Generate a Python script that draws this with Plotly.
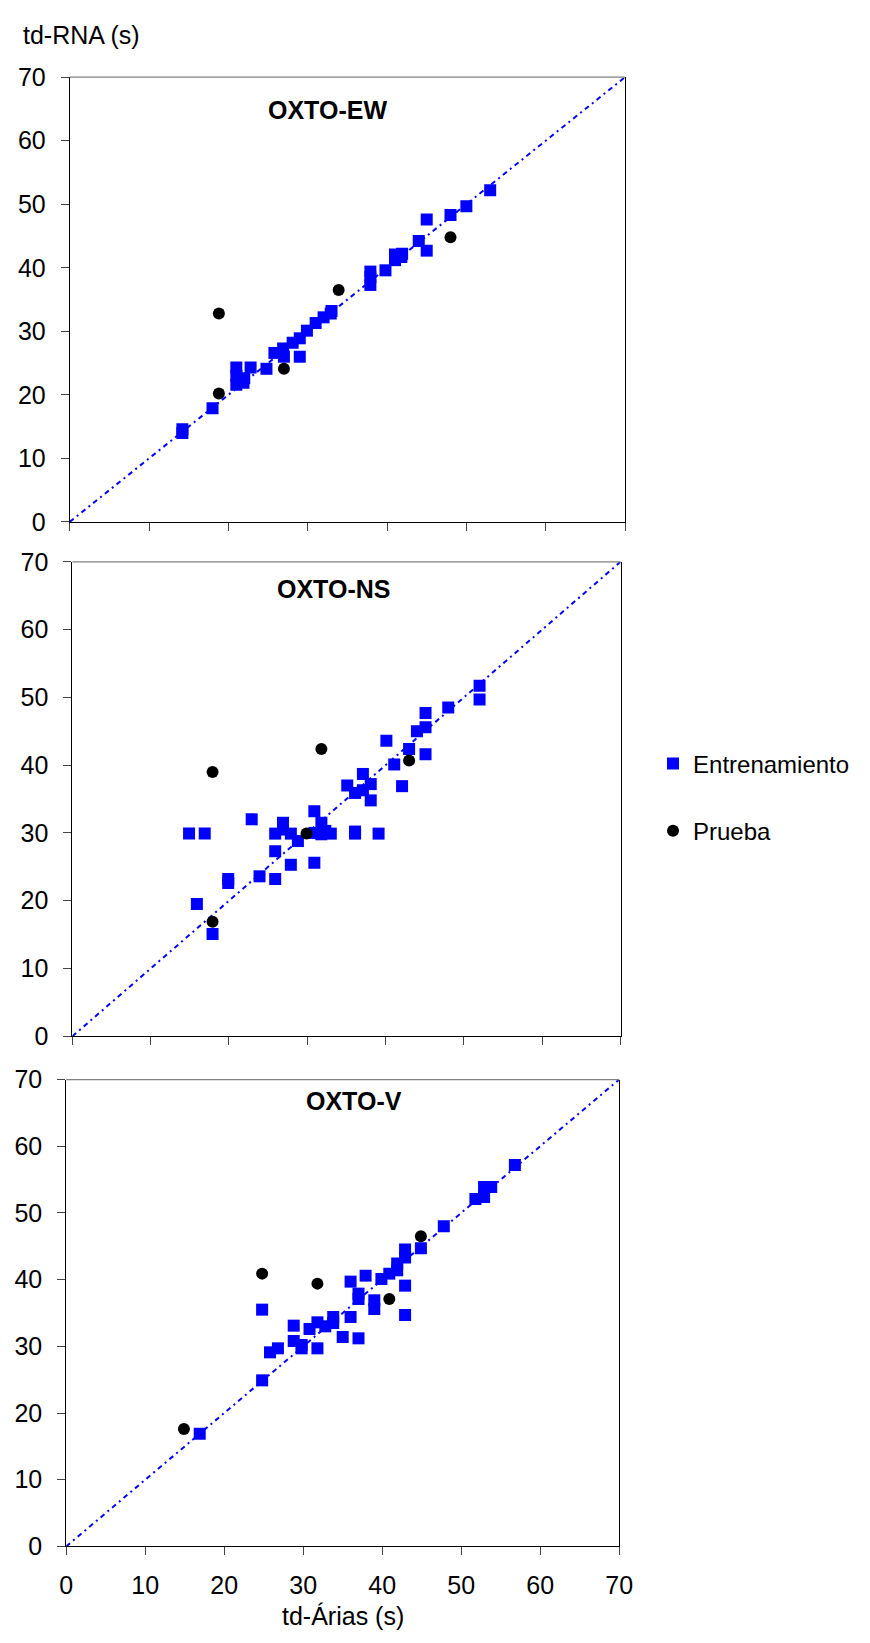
import plotly.graph_objects as go

# ---- data: td-Árias (x) vs td-RNA (y), seconds ----
ew_train_x = [14.2, 14.2, 18.0, 21.0, 21.0, 21.0, 21.9, 22.0, 22.8, 24.8, 25.8, 26.9, 27.0, 28.1,
              29.0, 29.0, 29.9, 31.0, 32.0, 32.9, 33.0, 37.9, 37.9, 37.9, 39.8, 41.0, 41.0, 41.8,
              41.9, 44.0, 45.0, 45.0, 48.0, 50.0, 53.0]
ew_train_y = [14.0, 14.6, 17.9, 24.3, 23.0, 21.6, 21.9, 22.6, 24.3, 24.1, 26.6, 27.3, 26.0, 28.2,
              28.9, 26.0, 30.1, 31.3, 32.2, 32.8, 33.2, 39.4, 38.5, 37.3, 39.6, 42.1, 41.2, 41.7,
              42.2, 44.2, 47.6, 42.7, 48.3, 49.7, 52.2]
ew_test_x = [18.8, 18.8, 27.0, 33.9, 48.0]
ew_test_y = [32.8, 20.2, 24.1, 36.5, 44.8]

ns_train_x = [14.9, 16.9, 15.9, 17.9, 19.9, 19.9, 22.9, 23.9, 25.9, 25.9, 25.9, 26.9, 26.9, 27.9,
              27.9, 28.8, 30.9, 30.9, 30.9, 31.8, 31.8, 32.3, 33.0, 35.1, 36.1, 36.1, 36.1, 37.1,
              37.1, 38.1, 38.1, 39.1, 40.1, 41.1, 42.1, 43.0, 44.0, 45.1, 45.1, 45.1, 48.0, 52.0,
              52.0]
ns_train_y = [29.9, 29.9, 19.5, 15.1, 23.2, 22.6, 32.0, 23.6, 29.9, 27.3, 23.2, 31.5, 30.5, 29.9,
              25.3, 28.8, 33.2, 25.6, 30.0, 31.5, 29.8, 30.3, 29.9, 37.0, 35.9, 30.2, 29.9, 38.7,
              36.3, 37.2, 34.8, 29.9, 43.6, 40.1, 36.9, 42.4, 45.0, 47.7, 45.6, 41.6, 48.5, 51.7,
              49.7]
ns_test_x = [17.9, 17.9, 29.9, 31.8, 43.0]
ns_test_y = [39.0, 16.9, 29.9, 42.4, 40.7]

v_train_x = [16.9, 24.8, 24.8, 25.8, 26.8, 28.8, 28.8, 29.8, 29.8, 30.8, 31.8, 31.8, 32.8, 33.8,
             33.8, 35.0, 36.0, 36.0, 37.0, 37.0, 37.0, 37.9, 39.0, 39.0, 39.9, 40.9, 41.9, 41.9,
             42.9, 42.9, 42.9, 42.9, 44.9, 47.8, 51.8, 52.9, 52.9, 53.8, 56.8]
v_train_y = [16.9, 24.9, 35.5, 29.1, 29.7, 33.1, 30.8, 30.2, 29.7, 32.6, 33.6, 29.7, 33.0, 34.4,
             33.5, 31.4, 39.7, 34.4, 37.9, 37.1, 31.2, 40.6, 36.9, 35.6, 40.1, 40.9, 41.4, 42.4,
             44.5, 43.3, 39.1, 34.7, 44.7, 48.0, 52.1, 52.4, 53.9, 53.9, 57.2]
v_test_x = [14.9, 24.8, 31.8, 40.9, 44.9]
v_test_y = [17.6, 40.9, 39.4, 37.1, 46.5]

panel_titles = ["OXTO-EW", "OXTO-NS", "OXTO-V"]
diag = [0, 70]
tick_vals = [0, 10, 20, 30, 40, 50, 60, 70]

FONT = "Liberation Sans, Arial, sans-serif"
W, H = 870, 1643
BLUE = "#0000FF"
FS = 25

# panel frames in pixels: (left, right, top, bottom)
frames = [(64.3, 633.3, 64.3, 516.7),
          (67.0, 628.7, 557.3, 1040.0),
          (60.7, 627.3, 1084.0, 1559.0)]
# title anchors in pixels (left edge, vertical centre)
title_pos = [(265.5, 98.0), (274.8, 585.0), (303.9, 1105.6)]

panels = [
    (ew_train_x, ew_train_y, ew_test_x, ew_test_y),
    (ns_train_x, ns_train_y, ns_test_x, ns_test_y),
    (v_train_x, v_train_y, v_test_x, v_test_y),
]

fig = go.Figure()
layout = dict(
    width=W, height=H,
    margin=dict(l=0, r=0, t=0, b=0),
    paper_bgcolor="white", plot_bgcolor="white",
    font=dict(family=FONT, size=FS, color="black"),
    showlegend=True,
    legend=dict(x=662 / W, xanchor="left", y=1 - 740 / H, yanchor="top",
                font=dict(family=FONT, size=24, color="black"),
                traceorder="grouped", tracegroupgap=33,
                bgcolor="rgba(0,0,0,0)", itemwidth=30),
)
annotations = []
shapes = []

for i, (tx, ty, px, py) in enumerate(panels):
    n = "" if i == 0 else str(i + 1)
    xa, ya = "x" + n, "y" + n
    l, r, t, b = frames[i]
    last = i == 2

    fig.add_trace(go.Scatter(x=diag, y=diag, mode="lines", xaxis=xa, yaxis=ya,
                             line=dict(color=BLUE, width=2, dash="5px,4px,2px,4px"),
                             showlegend=False, hoverinfo="skip"))
    fig.add_trace(go.Scatter(x=tx, y=ty, mode="markers", xaxis=xa, yaxis=ya,
                             name="Entrenamiento", legendgroup="train", showlegend=last,
                             marker=dict(symbol="square", size=12, color=BLUE,
                                         line=dict(width=0))))
    fig.add_trace(go.Scatter(x=px, y=py, mode="markers", xaxis=xa, yaxis=ya,
                             name="Prueba", legendgroup="test", showlegend=last,
                             marker=dict(symbol="circle", size=12, color="black",
                                         line=dict(width=0))))

    layout["xaxis" + n] = dict(
        domain=[l / W, r / W], anchor=ya, range=[0, 70], tickvals=tick_vals,
        showticklabels=last, ticks="outside", ticklen=8, tickcolor="#444", tickwidth=1,
        ticklabelstandoff=9, showline=True, linecolor="black", linewidth=1,
        showgrid=False, zeroline=False, fixedrange=True,
        tickfont=dict(family=FONT, size=FS, color="black"),
    )
    layout["yaxis" + n] = dict(
        domain=[1 - b / H, 1 - t / H], anchor=xa, range=[0, 70], tickvals=tick_vals,
        ticks="outside", ticklen=8, tickcolor="#444", tickwidth=1,
        ticklabelstandoff=10, showline=True, linecolor="black", linewidth=1,
        mirror=True, showgrid=False, zeroline=False, fixedrange=True,
        tickfont=dict(family=FONT, size=FS, color="black"),
    )
    # top edge of the plot area in grey
    shapes.append(dict(type="line", xref=xa + " domain", yref=ya + " domain",
                       x0=0, x1=1, y0=1, y1=1, line=dict(color="#808080", width=1.3)))

    tx0, ty0 = title_pos[i]
    annotations.append(dict(text="<b>" + panel_titles[i] + "</b>", xref="paper", yref="paper",
                            x=tx0 / W, y=1 - ty0 / H, xanchor="left", yanchor="middle",
                            showarrow=False, font=dict(family=FONT, size=FS, color="black")))

annotations.append(dict(text="td-RNA (s)", xref="paper", yref="paper",
                        x=14 / W, y=1 - 21 / H, xanchor="left", yanchor="middle",
                        showarrow=False, font=dict(family=FONT, size=FS, color="black")))
annotations.append(dict(text="td-Árias (s)", xref="paper", yref="paper",
                        x=344 / W, y=1 - 1630 / H, xanchor="center", yanchor="middle",
                        showarrow=False, font=dict(family=FONT, size=FS, color="black")))

layout["annotations"] = annotations
layout["shapes"] = shapes
fig.update_layout(**layout)

fig.write_html("out.html")
